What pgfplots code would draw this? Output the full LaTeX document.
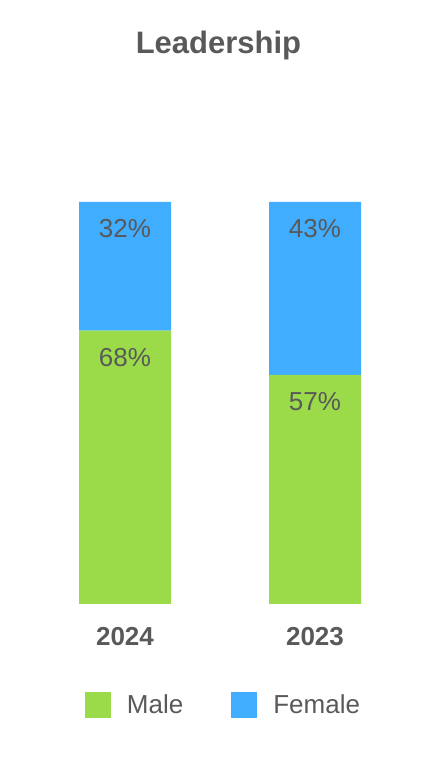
\documentclass[border=0pt]{standalone}
\usepackage{fontspec}
\setmainfont{Liberation Sans}
\usepackage{pgfplots}
\pgfplotsset{compat=1.18}
\definecolor{maleGreen}{RGB}{155,218,72}
\definecolor{femaleBlue}{RGB}{64,173,255}
\definecolor{txtGray}{RGB}{89,89,89}
\begin{document}
\begin{tikzpicture}
\useasboundingbox (0,0) rectangle (440pt,760pt);
\begin{axis}[
  at={(30pt,156pt)}, anchor=south west,
  scale only axis, width=380pt, height=402pt,
  xmin=-0.5, xmax=1.5, ymin=0, ymax=100,
  clip=false,
  ybar stacked, bar width=92pt, bar shift=0pt,
  axis line style={draw=none}, tick style={draw=none},
  ymajorticks=false,
  xtick={0,1}, xticklabels={2024,2023},
  xticklabel style={anchor=center, yshift=-32.7pt, text=txtGray,
    font=\fontsize{26}{30}\selectfont\bfseries},
  title={Leadership},
  title style={at={(0.496,1.3756)}, anchor=center, inner sep=0pt,
    text=txtGray, font=\fontsize{31}{36}\selectfont\bfseries},
  point meta=explicit symbolic,
  visualization depends on={rawy \as \segval},
  nodes near coords={\pgfplotspointmeta\%},
  % labels sit near the top edge of each segment
  every node near coord/.append style={anchor=center,
    yshift={(\segval*2.01-27)*1pt},
    text=txtGray, font=\fontsize{26}{30}\selectfont},
  legend columns=2,
  legend image code/.code={\fill[#1] (0pt,-13pt) rectangle (26pt,13pt);},
  legend style={at={(0.5066,-0.251)}, anchor=center, draw=none, fill=none,
    inner sep=0pt, outer sep=0pt,
    nodes={inner sep=0pt, text=txtGray, font=\fontsize{26}{30}\selectfont},
    /tikz/every odd column/.append style={column sep=16pt},
    /tikz/every even column/.append style={column sep=48pt}},
]
\addplot[fill=maleGreen, draw=none] coordinates {(0,68) [68] (1,57) [57]};
\addlegendentry{Male}
\addplot[fill=femaleBlue, draw=none] coordinates {(0,32) [32] (1,43) [43]};
\addlegendentry{Female}
\end{axis}
\end{tikzpicture}
\end{document}
